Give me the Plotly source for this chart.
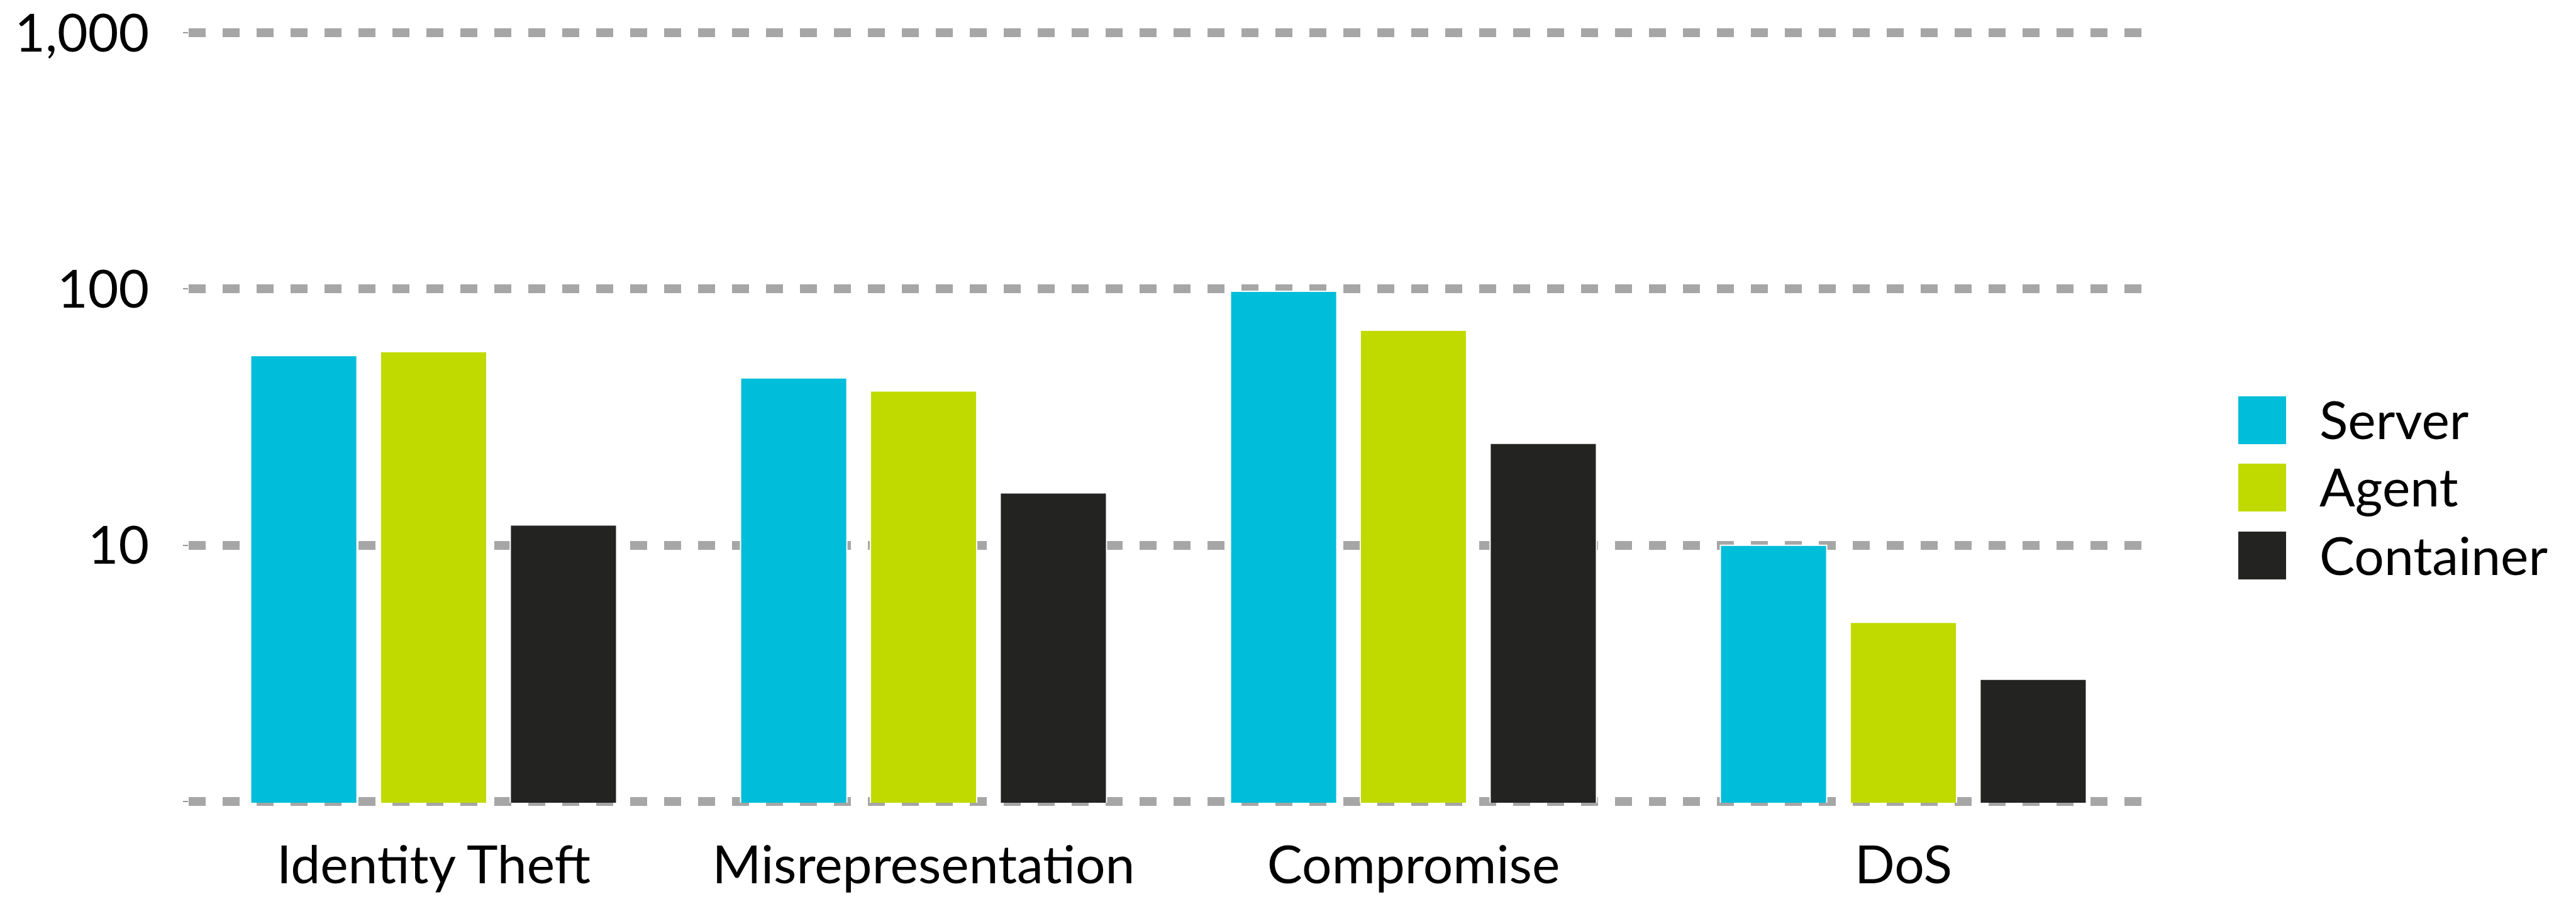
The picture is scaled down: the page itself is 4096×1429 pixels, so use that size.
import plotly.graph_objects as go

categories = ["Identity Theft", "Misrepresentation", "Compromise", "DoS"]
series_names = ["Server", "Agent", "Container"]
server = [55, 45, 98, 10]
agent = [57, 40, 69, 5]
container = [12, 16, 25, 3]
series_values = [server, agent, container]
colors = ["#00BDD9", "#C0DA00", "#232321"]
y_tickvals = [1, 10, 100, 1000]
y_ticktext = ["", "10", "100", "1,000"]

W, H = 4096, 1429
ML, MR, MT, MB = 300, 680, 40, 153
PW = W - ML - MR
PH = H - MT - MB
FONT = "Lato"
FS = 84

fig = go.Figure()
for name, vals, col in zip(series_names, series_values, colors):
    fig.add_trace(go.Bar(
        x=categories, y=vals, name=name,
        marker=dict(color=col, line=dict(color="white", width=2)),
        showlegend=False,
    ))

# manual legend (large square swatches)
def px2paper_x(px):
    return (px - ML) / PW

def px2paper_y(py):
    return (H - MB - py) / PH

sq_x0, sq_x1 = 3559, 3635
centers = [668, 775, 883]
half = 38
shapes = []
annotations = []
for name, col, cy in zip(series_names, colors, centers):
    shapes.append(dict(type="rect", xref="paper", yref="paper",
                       x0=px2paper_x(sq_x0), x1=px2paper_x(sq_x1),
                       y0=px2paper_y(cy + half), y1=px2paper_y(cy - half),
                       fillcolor=col, line=dict(width=0), layer="above"))
    annotations.append(dict(xref="paper", yref="paper",
                            x=px2paper_x(3686), y=px2paper_y(cy - 2),
                            xanchor="left", yanchor="middle",
                            text=name, showarrow=False,
                            font=dict(family=FONT, size=FS, color="black")))

fig.update_layout(
    width=W, height=H,
    margin=dict(l=ML, r=MR, t=MT, b=MB, pad=0, autoexpand=False),
    paper_bgcolor="white", plot_bgcolor="white",
    barmode="group", bargap=0.205, bargroupgap=0.181,
    font=dict(family=FONT, size=FS, color="black"),
    shapes=shapes, annotations=annotations,
    xaxis=dict(showgrid=False, showline=False, zeroline=False, automargin=False,
               ticks="", tickfont=dict(family=FONT, size=FS, color="black"),
               ticklabelstandoff=43),
    yaxis=dict(type="log", range=[-0.005, 3.03], automargin=False,
               tickvals=y_tickvals, ticktext=y_ticktext,
               showgrid=True, gridcolor="#A6A6A6", gridwidth=14,
               griddash="27px,27px",
               showline=False, zeroline=False,
               ticks="outside", ticklen=8, tickwidth=2, tickcolor="#999999",
               tickfont=dict(family=FONT, size=FS, color="black"),
               ticklabelstandoff=37, ticklabeloverflow="allow"),
)

fig.write_html("out.html")
